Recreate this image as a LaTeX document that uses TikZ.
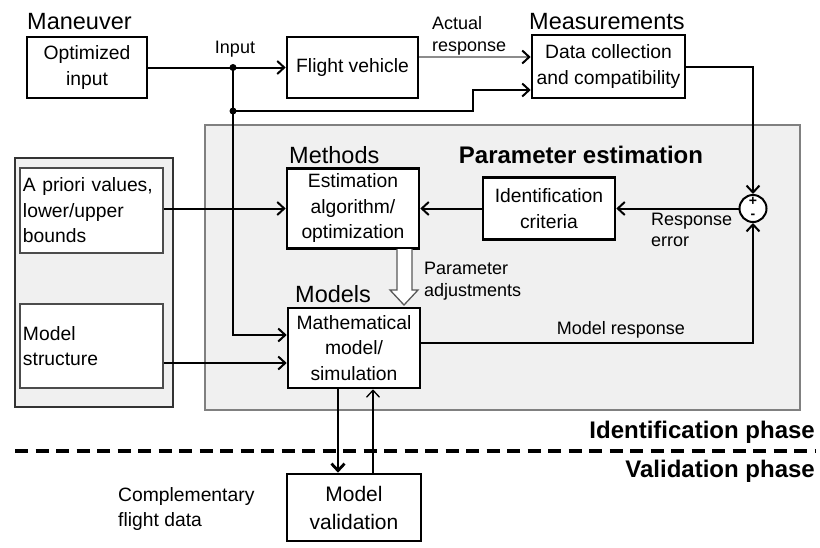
\documentclass[tikz,border=0pt]{standalone}
\usepackage{fontspec}
\setmainfont{Liberation Sans}
\usetikzlibrary{arrows.meta,calc}
\definecolor{bgarea}{HTML}{F0F0F0}
\definecolor{areaframe}{HTML}{808080}
\begin{document}
\begin{tikzpicture}[x=1pt,y=-1pt,
 box/.style={draw, line width=2.6pt, fill=white, align=center, inner sep=0pt},
 sbox/.style={draw=black!70, line width=1.5pt, fill=white, inner sep=0pt, align=left, text width=137pt},
 txt/.style={font=\fontsize{19.3}{25.5}\selectfont},
 lbl/.style={font=\fontsize{18}{21.5}\selectfont, inner sep=0pt},
 head/.style={font=\fontsize{23.5}{26}\selectfont, inner sep=0pt},
 phase/.style={font=\fontsize{24}{26}\selectfont\bfseries, inner sep=0pt},
 conn/.style={line width=2pt, -{Straight Barb[length=7pt,width=13pt]}},
 line/.style={line width=2pt},
]
\useasboundingbox (0,0) rectangle (820,547);
% areas
\draw[areaframe, fill=bgarea, line width=1.5pt] (205,125) rectangle (800,410);
\draw[black!80, fill=bgarea, line width=2pt] (15,158) rectangle (173,407);
% nodes
\node[box, txt, minimum width=120pt, minimum height=61pt] (opt) at (87,67.5) {Optimized\\input};
\node[box, txt, minimum width=131pt, minimum height=61pt] (fv) at (352.5,67.5) {Flight vehicle};
\node[box, txt, minimum width=153pt, minimum height=63pt] (dc) at (608.5,66.5) {Data collection\\and compatibility};
\node[box, txt, minimum width=132pt, minimum height=80pt] (est) at (353,208.5) {Estimation\\algorithm/\\optimization};
\node[box, txt, minimum width=132pt, minimum height=62pt] (idc) at (549,208.5) {Identification\\criteria};
\node[box, txt, minimum width=132pt, minimum height=80pt] (mm) at (354,348) {Mathematical\\model/\\simulation};
\node[box, font=\fontsize{21}{28}\selectfont, minimum width=134pt, minimum height=67pt] (mv) at (354,507.5) {Model\\validation};
\node[sbox, txt, minimum width=143pt, minimum height=85pt] (apr) at (91.5,210.5) {A priori values,\\lower/upper\\bounds};
\node[sbox, txt, minimum width=143pt, minimum height=84pt] (ms) at (91.5,346) {Model\\structure};
\node[circle, draw, line width=2pt, fill=white, minimum size=27pt, inner sep=0pt] (sum) at (753,208.5) {};
\node[inner sep=0pt, font=\fontsize{14}{14}\selectfont\bfseries] (plus) at (753,201.5) {+};
\node[inner sep=0pt, font=\fontsize{14}{14}\selectfont\bfseries] (minus) at (753,216) {-};
% headings
\node[head, anchor=base west] (hman) at (27,29) {Maneuver};
\node[head, anchor=base west] (hmeas) at (529,29) {Measurements};
\node[head, anchor=base west] (hmeth) at (289,163) {Methods};
\node[head, anchor=base west] (hmod) at (295,302) {Models};
\node[phase] (hpe) at (581,155) {Parameter estimation};
\node[phase, anchor=east] (hid) at (815,432) {Identification phase};
\node[phase, anchor=east] (hval) at (815,471) {Validation phase};
% labels
\node[lbl] (linput) at (235,49) {Input};
\node[lbl, anchor=west, align=left] (lact) at (432,36) {Actual\\response};
\node[lbl, anchor=west, align=left] (lpar) at (424,281) {Parameter\\adjustments};
\node[lbl, anchor=west, align=left] (lerr) at (651,230) {Response\\error};
\node[lbl] (lmr) at (621,330) {Model response};
\node[lbl, font=\fontsize{19.3}{25}\selectfont, anchor=west, align=left] (lcomp) at (118,509) {Complementary\\flight data};
% coordinates
\coordinate (j1) at (233,67.5);
\coordinate (j2) at (233,111);
\coordinate (k) at (473,111);
\coordinate (m2) at ($(dc.west)+(0,23.5)$);
\coordinate (ar1) at ($(fv.east)+(0,-10.5)$);
\coordinate (mmin) at ($(mm.west)+(0,-13)$);
\coordinate (mmst) at ($(mm.west)+(0,15)$);
\coordinate (mr) at ($(mm.east)+(0,-5)$);
% connectors
\draw[conn] (opt.east) -- (fv.west);
\draw[line] (j1) -- (j2);
\draw[conn] (j2) -- (k) |- (m2);
\draw[conn, draw=black!45, -{Straight Barb[length=7pt,width=13pt,color=black]}] (ar1) -- (ar1 -| dc.west);
\draw[conn] (dc.east) -| (sum.north);
\draw[conn] (sum.west) -- (idc.east);
\draw[conn] (idc.west) -- (est.east);
\draw[conn] (apr.east |- est.west) -- (est.west);
\draw[conn] (j2) |- (mmin);
\draw[conn] (ms.east |- mmst) -- (mmst);
\draw[conn] (mr) -| (sum.south);
\draw[conn, line width=2.8pt] ($(mm.south)+(-16,0)$) -- ($(mv.north)+(-16,0)$);
\draw[conn, line width=1.3pt] ($(mv.north)+(19,0)$) -- ($(mm.south)+(19,0)$);
\fill (j1) circle (3.5);
\fill (j2) circle (3.5);
% hollow arrow
\draw[draw=black!65, fill=white, line width=1.3pt] (397,249) -- (397,290) -- (390,290) -- (404,305) -- (418,290) -- (412,290) -- (412,249);
% dashed separator
\draw[line width=3.5pt, dash pattern=on 13pt off 7.5pt] (15,451) -- (815,451);
\end{tikzpicture}
\end{document}
